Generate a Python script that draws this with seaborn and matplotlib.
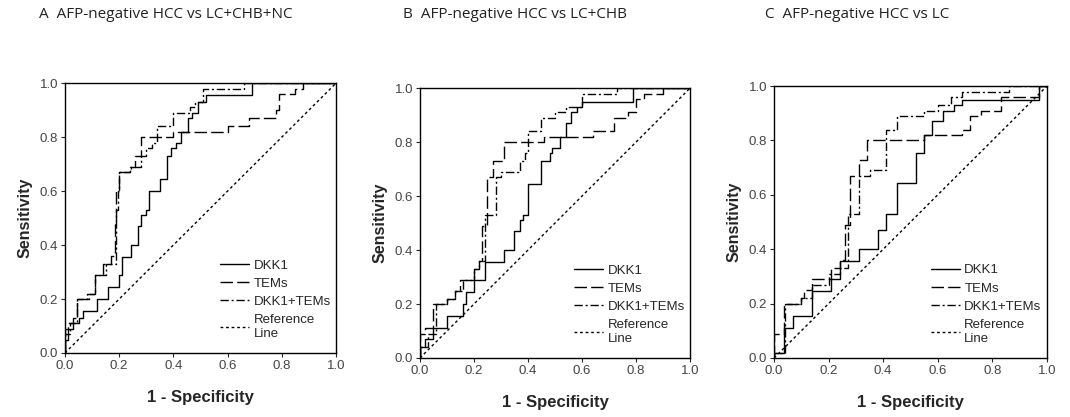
import numpy as np
import pandas as pd
import seaborn as sns
import matplotlib.pyplot as plt

# ROC vertices: at fpr[i] the curve jumps up to tpr[i]
a_dkk1_x = [0, 0, 0.01, 0.03, 0.05, 0.065, 0.12, 0.16, 0.2, 0.21, 0.245, 0.27, 0.28, 0.3, 0.31, 0.35, 0.375, 0.39, 0.41, 0.43, 0.455, 0.47, 0.49, 0.52, 0.69, 1.0]
a_dkk1_y = [0, 0.05, 0.09, 0.11, 0.13, 0.155, 0.2, 0.245, 0.29, 0.355, 0.4, 0.47, 0.51, 0.53, 0.6, 0.645, 0.73, 0.76, 0.78, 0.82, 0.87, 0.89, 0.93, 0.955, 1.0, 1.0]
a_tems_x = [0, 0, 0.01, 0.03, 0.045, 0.09, 0.11, 0.14, 0.17, 0.185, 0.19, 0.2, 0.245, 0.26, 0.28, 0.4, 0.6, 0.68, 0.78, 0.79, 0.85, 0.88, 1.0]
a_tems_y = [0, 0.09, 0.11, 0.13, 0.2, 0.22, 0.29, 0.33, 0.36, 0.49, 0.6, 0.67, 0.69, 0.73, 0.8, 0.82, 0.84, 0.87, 0.9, 0.96, 0.98, 1.0, 1.0]
a_comb_x = [0, 0, 0.02, 0.045, 0.08, 0.11, 0.15, 0.19, 0.195, 0.2, 0.24, 0.28, 0.3, 0.32, 0.34, 0.4, 0.46, 0.48, 0.51, 0.66, 1.0]
a_comb_y = [0, 0.07, 0.11, 0.2, 0.22, 0.29, 0.33, 0.53, 0.6, 0.67, 0.69, 0.73, 0.76, 0.78, 0.84, 0.89, 0.91, 0.93, 0.98, 1.0, 1.0]

b_dkk1_x = [0, 0, 0.02, 0.05, 0.1, 0.16, 0.17, 0.2, 0.24, 0.31, 0.35, 0.37, 0.38, 0.4, 0.45, 0.48, 0.49, 0.52, 0.54, 0.56, 0.58, 0.6, 0.79, 1.0]
b_dkk1_y = [0, 0.04, 0.07, 0.11, 0.155, 0.2, 0.245, 0.29, 0.355, 0.4, 0.47, 0.51, 0.53, 0.645, 0.73, 0.76, 0.78, 0.82, 0.87, 0.91, 0.93, 0.95, 1.0, 1.0]
b_tems_x = [0, 0, 0.02, 0.05, 0.1, 0.13, 0.15, 0.2, 0.22, 0.23, 0.25, 0.27, 0.31, 0.46, 0.64, 0.72, 0.77, 0.8, 0.83, 0.9, 1.0]
b_tems_y = [0, 0.09, 0.11, 0.2, 0.22, 0.25, 0.29, 0.33, 0.36, 0.49, 0.67, 0.73, 0.8, 0.82, 0.84, 0.89, 0.91, 0.96, 0.98, 1.0, 1.0]
b_comb_x = [0, 0, 0.03, 0.06, 0.1, 0.13, 0.16, 0.2, 0.22, 0.24, 0.28, 0.3, 0.37, 0.39, 0.4, 0.45, 0.5, 0.54, 0.6, 0.73, 1.0]
b_comb_y = [0, 0.04, 0.09, 0.2, 0.22, 0.25, 0.29, 0.33, 0.36, 0.53, 0.67, 0.69, 0.73, 0.76, 0.84, 0.89, 0.91, 0.93, 0.98, 1.0, 1.0]

c_dkk1_x = [0, 0, 0.035, 0.07, 0.14, 0.21, 0.24, 0.31, 0.38, 0.41, 0.45, 0.52, 0.55, 0.58, 0.62, 0.66, 0.69, 0.97, 1.0]
c_dkk1_y = [0, 0.02, 0.11, 0.155, 0.245, 0.29, 0.355, 0.4, 0.47, 0.53, 0.645, 0.755, 0.82, 0.87, 0.91, 0.93, 0.95, 1.0, 1.0]
c_tems_x = [0, 0, 0.035, 0.1, 0.11, 0.14, 0.21, 0.24, 0.26, 0.28, 0.31, 0.34, 0.55, 0.69, 0.72, 0.76, 0.83, 0.97, 1.0]
c_tems_y = [0, 0.09, 0.2, 0.22, 0.25, 0.29, 0.33, 0.36, 0.49, 0.67, 0.73, 0.8, 0.82, 0.84, 0.89, 0.91, 0.96, 1.0, 1.0]
c_comb_x = [0, 0, 0.04, 0.1, 0.14, 0.2, 0.24, 0.27, 0.31, 0.35, 0.41, 0.45, 0.55, 0.6, 0.65, 0.69, 0.86, 1.0]
c_comb_y = [0, 0.02, 0.2, 0.22, 0.27, 0.31, 0.33, 0.53, 0.67, 0.69, 0.84, 0.89, 0.91, 0.93, 0.96, 0.98, 1.0, 1.0]

titles = ["A  AFP-negative HCC vs LC+CHB+NC",
          "B  AFP-negative HCC vs LC+CHB",
          "C  AFP-negative HCC vs LC"]
ticks = [0.0, 0.2, 0.4, 0.6, 0.8, 1.0]

panels = [
    [(a_dkk1_x, a_dkk1_y), (a_tems_x, a_tems_y), (a_comb_x, a_comb_y)],
    [(b_dkk1_x, b_dkk1_y), (b_tems_x, b_tems_y), (b_comb_x, b_comb_y)],
    [(c_dkk1_x, c_dkk1_y), (c_tems_x, c_tems_y), (c_comb_x, c_comb_y)],
]
labels = ["DKK1", "TEMs", "DKK1+TEMs"]
styles = ["-", (0, (9, 3)), (0, (6, 2, 1.5, 2))]

sns.set_style("white")
plt.rcParams["font.family"] = ["Liberation Sans", "DejaVu Sans"]

fig = plt.figure(figsize=(10.7, 4.17), dpi=100)
axes_pos = [
    [0.0607, 0.1535, 0.2533, 0.647],
    [0.3925, 0.1415, 0.2523, 0.647],
    [0.7234, 0.1415, 0.2550, 0.652],
]
title_x = [0.036, 0.377, 0.715]

for pos, curves, title, tx in zip(axes_pos, panels, titles, title_x):
    ax = fig.add_axes(pos)
    for (xs, ys), lab, ls in zip(curves, labels, styles):
        df = pd.DataFrame({"fpr": xs, "tpr": ys})
        sns.lineplot(data=df, x="fpr", y="tpr", ax=ax, color="black", lw=1.0,
                     sort=False, estimator=None, drawstyle="steps-post",
                     linestyle=ls, label=lab)
    ref = pd.DataFrame({"fpr": [0, 1], "tpr": [0, 1]})
    sns.lineplot(data=ref, x="fpr", y="tpr", ax=ax, color="black", lw=1.0,
                 sort=False, estimator=None, linestyle=(0, (2, 2)),
                 label="Reference\nLine")
    ax.set_xlim(0, 1)
    ax.set_ylim(0, 1)
    ax.set_xticks(ticks)
    ax.set_yticks(ticks)
    ax.set_xticklabels([f"{t:.1f}" for t in ticks])
    ax.set_yticklabels([f"{t:.1f}" for t in ticks])
    ax.tick_params(direction="out", length=3, width=0.8, labelsize=9.5,
                   labelcolor="#444444", bottom=True, left=True, pad=2)
    for s in ax.spines.values():
        s.set_color("black")
        s.set_linewidth(1.0)
    ax.set_xlabel("1 - Specificity", fontsize=12, fontweight="bold", labelpad=13)
    ax.set_ylabel("Sensitivity", fontsize=11.5, fontweight="bold", labelpad=5)
    ax.legend(frameon=False, loc="lower right", bbox_to_anchor=(1.0, 0.03),
              fontsize=9.5, handlelength=2.2, handletextpad=0.3,
              labelspacing=0.45, borderaxespad=0.0)
    fig.text(tx, 0.965, title, fontsize=11, family=["Open Sans", "DejaVu Sans"],
             ha="left", va="center", color="#222222")

fig.savefig("out.png", dpi=100)
